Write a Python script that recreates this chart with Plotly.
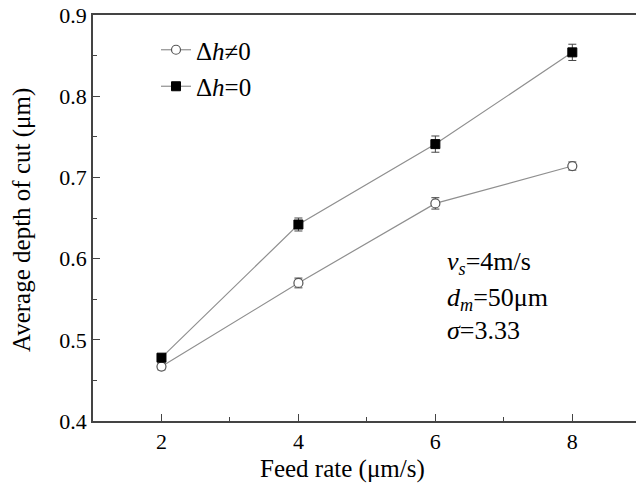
import plotly.graph_objects as go

feed_rate = [2, 4, 6, 8]
depth_nonzero = [0.467, 0.570, 0.668, 0.714]
err_nonzero = [0.004, 0.006, 0.007, 0.005]
depth_zero = [0.478, 0.642, 0.741, 0.854]
err_zero = [0.004, 0.008, 0.010, 0.010]

FONT = "Liberation Serif"
W, H = 636, 484
L, R, T, B = 93, 0, 15, 63

fig = go.Figure()
fig.add_trace(go.Scatter(
    x=feed_rate, y=depth_nonzero, mode="lines+markers",
    name="Δ<i>h</i>≠0", legendgroup="a",
    line=dict(color="#8f8f8f", width=1.2),
    marker=dict(symbol="circle", size=9, color="white",
                line=dict(color="#555555", width=1.2)),
    error_y=dict(type="data", array=err_nonzero, color="#444444",
                 thickness=1, width=4),
))
fig.add_trace(go.Scatter(
    x=feed_rate, y=depth_zero, mode="lines+markers",
    name="Δ<i>h</i>=0", legendgroup="b",
    line=dict(color="#8f8f8f", width=1.2),
    marker=dict(symbol="square", size=9, color="black",
                line=dict(color="black", width=1)),
    error_y=dict(type="data", array=err_zero, color="#444444",
                 thickness=1, width=4),
))

pw = W - L - R
ph = H - T - B

def px(x):
    return (x - L) / pw

def py(y):
    return (H - B - y) / ph

annotations = [
    dict(text="Feed rate (μm/s)", x=px(342), y=py(469), xref="paper", yref="paper",
         showarrow=False, font=dict(family=FONT, size=25, color="black"),
         xanchor="center", yanchor="middle"),
    dict(text="Average depth of cut (μm)", x=px(22), y=py(220), xref="paper", yref="paper",
         showarrow=False, textangle=-90, font=dict(family=FONT, size=25, color="black"),
         xanchor="center", yanchor="middle"),
    dict(text="<i>v<sub>s</sub></i>=4m/s", x=px(445), y=py(263), xref="paper", yref="paper",
         showarrow=False, font=dict(family=FONT, size=26, color="black"),
         xanchor="left", yanchor="middle"),
    dict(text="<i>d<sub>m</sub></i>=50μm", x=px(445), y=py(299), xref="paper", yref="paper",
         showarrow=False, font=dict(family=FONT, size=26, color="black"),
         xanchor="left", yanchor="middle"),
    dict(text="<i>σ</i>=3.33", x=px(445), y=py(330), xref="paper", yref="paper",
         showarrow=False, font=dict(family=FONT, size=26, color="black"),
         xanchor="left", yanchor="middle"),
]

fig.update_layout(
    width=W, height=H,
    margin=dict(l=L, r=R, t=T, b=B),
    paper_bgcolor="white", plot_bgcolor="white",
    font=dict(family=FONT, size=20, color="black"),
    showlegend=True,
    legend=dict(x=px(156), y=py(27), xanchor="left", yanchor="top",
                bgcolor="rgba(0,0,0,0)", font=dict(family=FONT, size=25, color="black"),
                itemwidth=30, tracegroupgap=1),
    annotations=annotations,
    xaxis=dict(range=[1, 8.93], tickvals=[2, 4, 6, 8], ticks="inside", ticklen=7,
               tickcolor="#444", showline=True, linecolor="#444", linewidth=1.5,
               mirror=True, showgrid=False, zeroline=False,
               minor=dict(tickvals=[3, 5, 7], ticks="inside", ticklen=4, tickcolor="#444"),
               tickfont=dict(family=FONT, size=22, color="black")),
    yaxis=dict(range=[0.4, 0.9], tickvals=[0.4, 0.5, 0.6, 0.7, 0.8, 0.9],
               ticktext=["0.4", "0.5", "0.6", "0.7", "0.8", "0.9"],
               ticks="inside", ticklen=7, tickcolor="#444",
               showline=True, linecolor="#444", linewidth=1.5, mirror=False,
               showgrid=False, zeroline=False,
               minor=dict(tickvals=[0.45, 0.55, 0.65, 0.75, 0.85], ticks="inside",
                          ticklen=4, tickcolor="#444"),
               tickfont=dict(family=FONT, size=22, color="black")),
)

fig.write_html("out.html", config={"displayModeBar": False},
               post_script="document.body.style.margin='0';")
